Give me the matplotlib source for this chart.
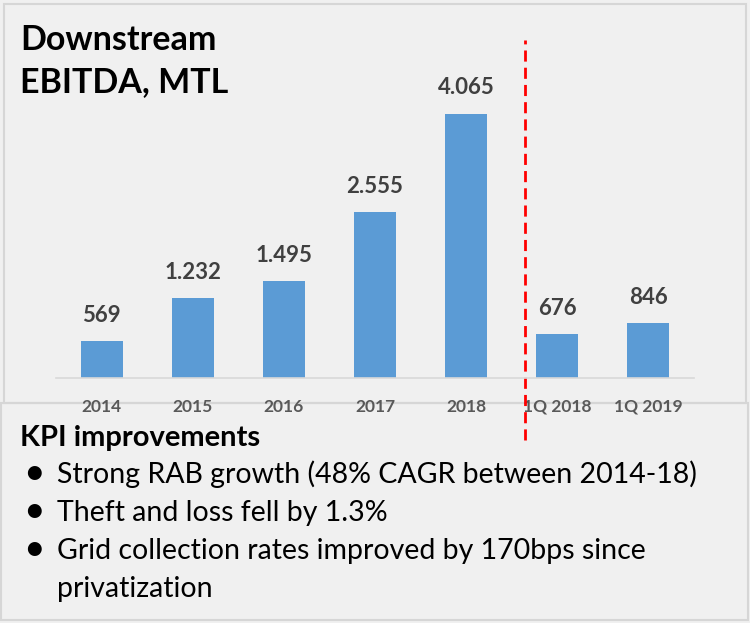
import matplotlib
matplotlib.use("Agg")
import matplotlib.pyplot as plt
from matplotlib.patches import Rectangle

# chart data
periods = ["2014", "2015", "2016", "2017", "2018", "1Q 2018", "1Q 2019"]
ebitda = [569, 1232, 1495, 2555, 4065, 676, 846]
value_labels = ["569", "1.232", "1.495", "2.555", "4.065", "676", "846"]
kpi_title = "KPI improvements"
kpi_points = [
    ["Strong RAB growth (48% CAGR between 2014-18)"],
    ["Theft and loss fell by 1.3%"],
    ["Grid collection rates improved by 170bps since", "privatization"],
]

plt.rcParams['font.family'] = ['Lato', 'DejaVu Sans']
bg = '#f0f0f0'
W, H = 750, 623

fig = plt.figure(figsize=(7.5, 6.23), dpi=100, facecolor=bg)

# boxes round the chart and the text
fig.patches.append(Rectangle((4 / W, 1 - 403 / H), 742 / W, 399 / H, transform=fig.transFigure,
                             facecolor='none', edgecolor='#d6d6d6', lw=1.5, zorder=-1))
fig.patches.append(Rectangle((1 / W, 1 - 620 / H), 747 / W, 217 / H, transform=fig.transFigure,
                             facecolor='none', edgecolor='#d6d6d6', lw=1.5, zorder=-1))

ax = fig.add_axes([56 / W, 1 - 378 / H, 638 / W, 338 / H])
ax.set_facecolor('none')
x = range(len(periods))
bars = ax.bar(x, ebitda, width=0.46, color='#5b9bd5')
ax.set_xlim(-0.5, 6.5)
ax.set_ylim(0, 5200)
for s in ['top', 'right', 'left']:
    ax.spines[s].set_visible(False)
ax.spines['bottom'].set_color('#d9d9d9')
ax.spines['bottom'].set_linewidth(1.2)
ax.set_yticks([])
ax.set_xticks(list(x))
ax.set_xticklabels(periods, fontsize=12.5, fontweight='bold', color='#595959')
ax.tick_params(axis='x', length=0, pad=15)

for b, lab in zip(bars, value_labels):
    ax.annotate(lab, (b.get_x() + b.get_width() / 2, b.get_height()),
                xytext=(0, 11), textcoords='offset points', ha='center', va='bottom',
                fontsize=16, fontweight='bold', color='#404040')

# separator between full years and quarters
ax.axvline(4.65, ymin=-0.183, ymax=1.0, clip_on=False, color='#ff0000',
           lw=2, dashes=(4, 2.2))

fig.text(20 / W, 1 - 50 / H, "Downstream", ha='left', va='baseline',
         fontsize=24.5, fontweight='bold', color='black')
fig.text(20 / W, 1 - 92 / H, "EBITDA, MTL", ha='left', va='baseline',
         fontsize=24.5, fontweight='bold', color='black')

fig.text(20 / W, 1 - 446 / H, kpi_title, ha='left', va='baseline',
         fontsize=21, fontweight='bold', color='black')
y = 483
for lines in kpi_points:
    fig.text(23 / W, 1 - (y + 1) / H, "\u2022", ha='left', va='baseline', fontsize=27, color='black')
    for ln in lines:
        fig.text(57 / W, 1 - y / H, ln, ha='left', va='baseline', fontsize=20.5, color='black')
        y += 38

plt.savefig("out.png", dpi=100, facecolor=bg)
